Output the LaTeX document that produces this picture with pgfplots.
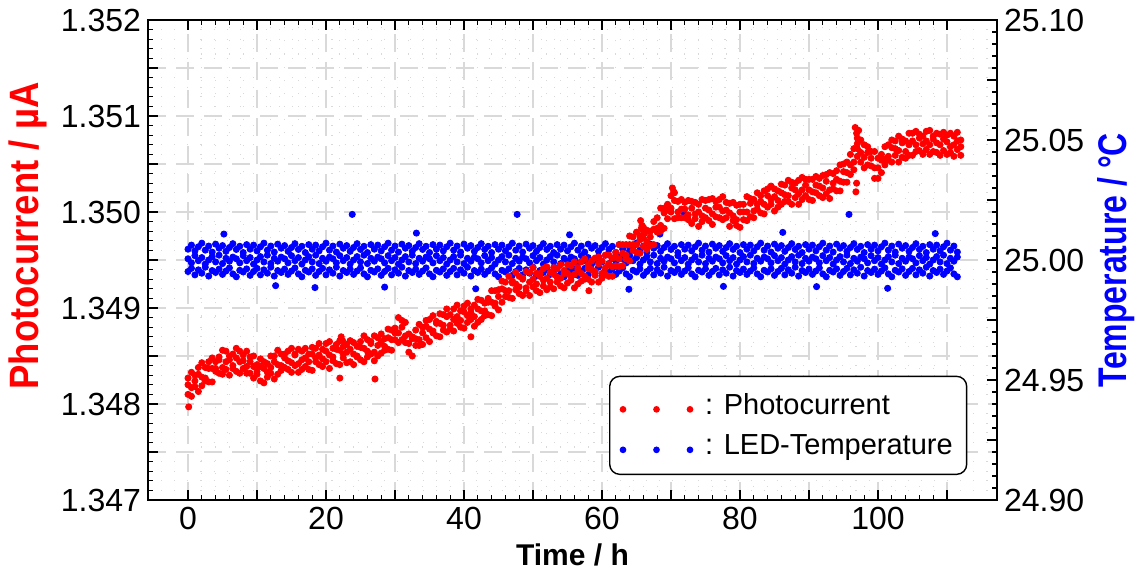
\documentclass[border=0pt]{standalone}
\usepackage{fontspec}
\setmainfont{Liberation Sans}
\usepackage{graphicx}
\usepackage{pgfplots}
\pgfplotsset{compat=1.18}
\usepackage{pgfplotstable}

\pgfplotstableread{
h a b c
0 1.34827 1.34820 1.34810
0.5 1.34833 1.34817 1.34808
1 1.34830 1.34824 1.34818
1.5 1.34838 1.34831 1.34813
2 1.34843 1.34828 1.34819
2.5 1.34838 1.34827 1.34824
3 1.34844 1.34837 1.34823
3.5 1.34848 1.34837 1.34823
4 1.34844 1.34837 1.34834
4.5 1.34849 1.34846 1.34832
5 1.34856 1.34838 1.34831
5.5 1.34855 1.34844 1.34836
6 1.34850 1.34846 1.34830
6.5 1.34852 1.34840 1.34837
7 1.34858 1.34848 1.34834
7.5 1.34855 1.34844 1.34832
8 1.34851 1.34845 1.34837
8.5 1.34855 1.34839 1.34832
9 1.34849 1.34844 1.34832
9.5 1.34850 1.34839 1.34827
10 1.34841 1.34834 1.34831
10.5 1.34847 1.34839 1.34824
11 1.34844 1.34837 1.34822
11.5 1.34842 1.34833 1.34828
12 1.34850 1.34838 1.34832
12.5 1.34850 1.34844 1.34826
13 1.34856 1.34841 1.34831
13.5 1.34852 1.34840 1.34835
14 1.34852 1.34848 1.34838
14.5 1.34855 1.34845 1.34836
15 1.34858 1.34843 1.34833
15.5 1.34852 1.34851 1.34840
16 1.34857 1.34842 1.34833
16.5 1.34855 1.34846 1.34836
17 1.34858 1.34848 1.34839
17.5 1.34852 1.34844 1.34836
18 1.34859 1.34852 1.34835
18.5 1.34858 1.34848 1.34844
19 1.34863 1.34851 1.34841
19.5 1.34857 1.34847 1.34839
20 1.34863 1.34855 1.34844
20.5 1.34865 1.34851 1.34837
21 1.34858 1.34849 1.34845
21.5 1.34862 1.34857 1.34842
22 1.34866 1.34856 1.34841
22.5 1.34860 1.34852 1.34848
23 1.34862 1.34854 1.34843
23.5 1.34866 1.34857 1.34844
24 1.34864 1.34852 1.34841
24.5 1.34860 1.34850 1.34849
25 1.34865 1.34859 1.34846
25.5 1.34871 1.34858 1.34844
26 1.34867 1.34855 1.34849
26.5 1.34865 1.34863 1.34852
27 1.34871 1.34854 1.34845
27.5 1.34869 1.34861 1.34850
28 1.34873 1.34864 1.34853
28.5 1.34868 1.34860 1.34856
29 1.34878 1.34869 1.34857
29.5 1.34877 1.34867 1.34856
30 1.34879 1.34874 1.34867
30.5 1.34890 1.34874 1.34864
31 1.34887 1.34880 1.34867
31.5 1.34885 1.34871 1.34864
32 1.34873 1.34863 1.34854
32.5 1.34870 1.34868 1.34850
33 1.34877 1.34868 1.34861
33.5 1.34883 1.34867 1.34861
34 1.34880 1.34874 1.34862
34.5 1.34887 1.34881 1.34869
35 1.34888 1.34878 1.34865
35.5 1.34892 1.34876 1.34874
36 1.34886 1.34884 1.34871
36.5 1.34894 1.34884 1.34870
37 1.34893 1.34882 1.34877
37.5 1.34899 1.34891 1.34875
38 1.34893 1.34882 1.34878
38.5 1.34899 1.34888 1.34876
39 1.34903 1.34891 1.34884
39.5 1.34897 1.34887 1.34880
40 1.34902 1.34896 1.34879
40.5 1.34905 1.34892 1.34885
41 1.34899 1.34895 1.34888
41.5 1.34903 1.34891 1.34881
42 1.34909 1.34899 1.34885
42.5 1.34908 1.34897 1.34888
43 1.34905 1.34897 1.34892
43.5 1.34910 1.34906 1.34893
44 1.34918 1.34906 1.34892
44.5 1.34918 1.34905 1.34902
45 1.34919 1.34912 1.34898
45.5 1.34928 1.34920 1.34906
46 1.34927 1.34918 1.34912
46.5 1.34933 1.34918 1.34911
47 1.34928 1.34926 1.34910
47.5 1.34937 1.34925 1.34919
48 1.34933 1.34922 1.34915
48.5 1.34931 1.34930 1.34913
49 1.34938 1.34921 1.34918
49.5 1.34937 1.34927 1.34913
50 1.34942 1.34930 1.34922
50.5 1.34936 1.34925 1.34918
51 1.34936 1.34933 1.34916
51.5 1.34941 1.34929 1.34923
52 1.34943 1.34931 1.34919
52.5 1.34937 1.34927 1.34922
53 1.34942 1.34935 1.34920
53.5 1.34941 1.34932 1.34927
54 1.34945 1.34931 1.34923
54.5 1.34939 1.34936 1.34921
55 1.34945 1.34936 1.34926
55.5 1.34944 1.34932 1.34929
56 1.34948 1.34935 1.34921
56.5 1.34942 1.34940 1.34925
57 1.34948 1.34936 1.34928
57.5 1.34951 1.34933 1.34930
58 1.34945 1.34941 1.34930
58.5 1.34949 1.34940 1.34927
59 1.34952 1.34938 1.34934
59.5 1.34953 1.34946 1.34927
60 1.34949 1.34936 1.34931
60.5 1.34955 1.34942 1.34935
61 1.34955 1.34946 1.34933
61.5 1.34952 1.34943 1.34933
62 1.34958 1.34953 1.34944
62.5 1.34966 1.34951 1.34943
63 1.34966 1.34957 1.34944
63.5 1.34966 1.34955 1.34951
64 1.34975 1.34966 1.34949
64.5 1.34974 1.34966 1.34960
65 1.34979 1.34966 1.34958
65.5 1.34975 1.34971 1.34957
66 1.34984 1.34973 1.34964
66.5 1.34981 1.34969 1.34961
67 1.34980 1.34974 1.34965
67.5 1.34990 1.34982 1.34966
68 1.34994 1.34983 1.34979
68.5 1.35004 1.34986 1.34980
69 1.35004 1.34999 1.34983
69.5 1.35008 1.35002 1.34993
70 1.35017 1.35004 1.35000
70.5 1.35020 1.35012 1.34993
71 1.35011 1.35000 1.34994
71.5 1.35013 1.35003 1.34994
72 1.35010 1.35003 1.34994
72.5 1.35012 1.34997 1.34992
73 1.35011 1.35004 1.34988
73.5 1.35010 1.34998 1.34993
74 1.35008 1.35000 1.34985
74.5 1.35013 1.34996 1.34990
75 1.35012 1.35004 1.34994
75.5 1.35013 1.35002 1.34991
76 1.35014 1.34998 1.34987
76.5 1.35011 1.35005 1.34995
77 1.35013 1.35005 1.34994
77.5 1.35016 1.35001 1.34992
78 1.35010 1.35002 1.34994
78.5 1.35009 1.34999 1.34985
79 1.35010 1.34996 1.34991
79.5 1.35007 1.34992 1.34986
80 1.35008 1.35000 1.34984
80.5 1.35008 1.35000 1.34992
81 1.35016 1.35000 1.34991
81.5 1.35014 1.35009 1.34995
82 1.35013 1.35001 1.34994
82.5 1.35020 1.35008 1.35003
83 1.35017 1.35011 1.34999
83.5 1.35022 1.35008 1.34998
84 1.35024 1.35017 1.35005
84.5 1.35027 1.35013 1.35008
85 1.35024 1.35016 1.35001
85.5 1.35022 1.35012 1.35005
86 1.35029 1.35020 1.35008
86.5 1.35028 1.35018 1.35011
87 1.35033 1.35017 1.35011
87.5 1.35031 1.35025 1.35008
88 1.35030 1.35023 1.35015
88.5 1.35033 1.35019 1.35008
89 1.35036 1.35023 1.35013
89.5 1.35034 1.35028 1.35017
90 1.35034 1.35023 1.35013
90.5 1.35034 1.35021 1.35012
91 1.35037 1.35028 1.35020
91.5 1.35035 1.35027 1.35017
92 1.35038 1.35025 1.35015
92.5 1.35039 1.35032 1.35019
93 1.35041 1.35023 1.35014
93.5 1.35040 1.35030 1.35024
94 1.35043 1.35034 1.35022
94.5 1.35049 1.35032 1.35022
95 1.35050 1.35042 1.35031
95.5 1.35052 1.35041 1.35031
96 1.35060 1.35049 1.35039
96.5 1.35066 1.35052 1.35044
97 1.35071 1.35066 1.35058
97.5 1.35075 1.35062 1.35052
98 1.35070 1.35057 1.35046
98.5 1.35068 1.35062 1.35049
99 1.35063 1.35056 1.35048
99.5 1.35063 1.35046 1.35035
100 1.35056 1.35046 1.35035
100.5 1.35060 1.35054 1.35041
101 1.35068 1.35055 1.35049
101.5 1.35070 1.35058 1.35054
102 1.35075 1.35067 1.35052
102.5 1.35074 1.35066 1.35059
103 1.35079 1.35064 1.35052
103.5 1.35076 1.35072 1.35057
104 1.35074 1.35063 1.35056
104.5 1.35082 1.35070 1.35059
105 1.35082 1.35074 1.35059
105.5 1.35084 1.35070 1.35063
106 1.35081 1.35077 1.35064
106.5 1.35079 1.35071 1.35060
107 1.35084 1.35074 1.35065
107.5 1.35085 1.35070 1.35060
108 1.35079 1.35076 1.35063
108.5 1.35082 1.35072 1.35062
109 1.35081 1.35070 1.35059
109.5 1.35083 1.35076 1.35064
110 1.35080 1.35073 1.35060
110.5 1.35082 1.35068 1.35062
111 1.35079 1.35070 1.35058
111.5 1.35083 1.35074 1.35065
112 1.35075 1.35068 1.35059
}\redtab

\pgfplotstableread{
h y
0.1 1.34797
22.0 1.34827
22.2 1.34870
22.4 1.34866
27.1 1.34826
41.0 1.34870
58.1 1.34918
65.6 1.34991
65.7 1.34983
65.8 1.34986
66.0 1.34980
66.2 1.34978
70.2 1.35025
70.4 1.35021
96.7 1.35088
96.8 1.35021
96.9 1.35082
96.9 1.35030
97.0 1.35077
97.2 1.35085
}\redout

\pgfplotstableread{
h a b c
0 25.0045 25.0005 24.9952
0.5 25.0062 24.9988 24.9965
1 25.0038 25.0018 24.9938
1.5 25.0055 24.9997 24.9959
2 25.0070 25.0010 24.9945
2.5 25.0041 24.9983 24.9970
3 25.0058 25.0000 24.9933
3.5 25.0033 25.0014 24.9956
4 25.0066 24.9992 24.9948
4.5 25.0049 25.0020 24.9962
5 25.0060 24.9985 24.9940
5.5 25.0036 25.0007 24.9954
6 25.0052 24.9995 24.9967
6.5 25.0068 25.0012 24.9942
7 25.0044 25.0005 24.9930
7.5 25.0057 24.9988 24.9957
8 25.0031 25.0018 24.9950
8.5 25.0064 24.9997 24.9963
9 25.0045 25.0010 24.9936
9.5 25.0062 24.9983 24.9952
10 25.0038 25.0000 24.9965
10.5 25.0055 25.0014 24.9938
11 25.0070 24.9992 24.9959
11.5 25.0041 25.0020 24.9945
12 25.0058 24.9985 24.9970
12.5 25.0033 25.0007 24.9933
13 25.0066 24.9995 24.9956
13.5 25.0049 25.0012 24.9948
14 25.0060 25.0005 24.9962
14.5 25.0036 24.9988 24.9940
15 25.0052 25.0018 24.9954
15.5 25.0068 24.9997 24.9967
16 25.0044 25.0010 24.9942
16.5 25.0057 24.9983 24.9930
17 25.0031 25.0000 24.9957
17.5 25.0064 25.0014 24.9950
18 25.0045 24.9992 24.9963
18.5 25.0062 25.0020 24.9936
19 25.0038 24.9985 24.9952
19.5 25.0055 25.0007 24.9965
20 25.0070 24.9995 24.9938
20.5 25.0041 25.0012 24.9959
21 25.0058 25.0005 24.9945
21.5 25.0033 24.9988 24.9970
22 25.0066 25.0018 24.9933
22.5 25.0049 24.9997 24.9956
23 25.0060 25.0010 24.9948
23.5 25.0036 24.9983 24.9962
24 25.0052 25.0000 24.9940
24.5 25.0068 25.0014 24.9954
25 25.0044 24.9992 24.9967
25.5 25.0057 25.0020 24.9942
26 25.0031 24.9985 24.9930
26.5 25.0064 25.0007 24.9957
27 25.0045 24.9995 24.9950
27.5 25.0062 25.0012 24.9963
28 25.0038 25.0005 24.9936
28.5 25.0055 24.9988 24.9952
29 25.0070 25.0018 24.9965
29.5 25.0041 24.9997 24.9938
30 25.0058 25.0010 24.9959
30.5 25.0033 24.9983 24.9945
31 25.0066 25.0000 24.9970
31.5 25.0049 25.0014 24.9933
32 25.0060 24.9992 24.9956
32.5 25.0036 25.0020 24.9948
33 25.0052 24.9985 24.9962
33.5 25.0068 25.0007 24.9940
34 25.0044 24.9995 24.9954
34.5 25.0057 25.0012 24.9967
35 25.0031 25.0005 24.9942
35.5 25.0064 24.9988 24.9930
36 25.0045 25.0018 24.9957
36.5 25.0062 24.9997 24.9950
37 25.0038 25.0010 24.9963
37.5 25.0055 24.9983 24.9936
38 25.0070 25.0000 24.9952
38.5 25.0041 25.0014 24.9965
39 25.0058 24.9992 24.9938
39.5 25.0033 25.0020 24.9959
40 25.0066 24.9985 24.9945
40.5 25.0049 25.0007 24.9970
41 25.0060 24.9995 24.9933
41.5 25.0036 25.0012 24.9956
42 25.0052 25.0005 24.9948
42.5 25.0068 24.9988 24.9962
43 25.0044 25.0018 24.9940
43.5 25.0057 24.9997 24.9954
44 25.0031 25.0010 24.9967
44.5 25.0064 24.9983 24.9942
45 25.0045 25.0000 24.9930
45.5 25.0062 25.0014 24.9957
46 25.0038 24.9992 24.9950
46.5 25.0055 25.0020 24.9963
47 25.0070 24.9985 24.9936
47.5 25.0041 25.0007 24.9952
48 25.0058 24.9995 24.9965
48.5 25.0033 25.0012 24.9938
49 25.0066 25.0005 24.9959
49.5 25.0049 24.9988 24.9945
50 25.0060 25.0018 24.9970
50.5 25.0036 24.9997 24.9933
51 25.0052 25.0010 24.9956
51.5 25.0068 24.9983 24.9948
52 25.0044 25.0000 24.9962
52.5 25.0057 25.0014 24.9940
53 25.0031 24.9992 24.9954
53.5 25.0064 25.0020 24.9967
54 25.0045 24.9985 24.9942
54.5 25.0062 25.0007 24.9930
55 25.0038 24.9995 24.9957
55.5 25.0055 25.0012 24.9950
56 25.0070 25.0005 24.9963
56.5 25.0041 24.9988 24.9936
57 25.0058 25.0018 24.9952
57.5 25.0033 24.9997 24.9965
58 25.0066 25.0010 24.9938
58.5 25.0049 24.9983 24.9959
59 25.0060 25.0000 24.9945
59.5 25.0036 25.0014 24.9970
60 25.0052 24.9992 24.9933
60.5 25.0068 25.0020 24.9956
61 25.0044 24.9985 24.9948
61.5 25.0057 25.0007 24.9962
62 25.0031 24.9995 24.9940
62.5 25.0064 25.0012 24.9954
63 25.0045 25.0005 24.9967
63.5 25.0062 24.9988 24.9942
64 25.0038 25.0018 24.9930
64.5 25.0055 24.9997 24.9957
65 25.0070 25.0010 24.9950
65.5 25.0041 24.9983 24.9963
66 25.0058 25.0000 24.9936
66.5 25.0033 25.0014 24.9952
67 25.0066 24.9992 24.9965
67.5 25.0049 25.0020 24.9938
68 25.0060 24.9985 24.9959
68.5 25.0036 25.0007 24.9945
69 25.0052 24.9995 24.9970
69.5 25.0068 25.0012 24.9933
70 25.0044 25.0005 24.9956
70.5 25.0057 24.9988 24.9948
71 25.0031 25.0018 24.9962
71.5 25.0064 24.9997 24.9940
72 25.0045 25.0010 24.9954
72.5 25.0062 24.9983 24.9967
73 25.0038 25.0000 24.9942
73.5 25.0055 25.0014 24.9930
74 25.0070 24.9992 24.9957
74.5 25.0041 25.0020 24.9950
75 25.0058 24.9985 24.9963
75.5 25.0033 25.0007 24.9936
76 25.0066 24.9995 24.9952
76.5 25.0049 25.0012 24.9965
77 25.0060 25.0005 24.9938
77.5 25.0036 24.9988 24.9959
78 25.0052 25.0018 24.9945
78.5 25.0068 24.9997 24.9970
79 25.0044 25.0010 24.9933
79.5 25.0057 24.9983 24.9956
80 25.0031 25.0000 24.9948
80.5 25.0064 25.0014 24.9962
81 25.0045 24.9992 24.9940
81.5 25.0062 25.0020 24.9954
82 25.0038 24.9985 24.9967
82.5 25.0055 25.0007 24.9942
83 25.0070 24.9995 24.9930
83.5 25.0041 25.0012 24.9957
84 25.0058 25.0005 24.9950
84.5 25.0033 24.9988 24.9963
85 25.0066 25.0018 24.9936
85.5 25.0049 24.9997 24.9952
86 25.0060 25.0010 24.9965
86.5 25.0036 24.9983 24.9938
87 25.0052 25.0000 24.9959
87.5 25.0068 25.0014 24.9945
88 25.0044 24.9992 24.9970
88.5 25.0057 25.0020 24.9933
89 25.0031 24.9985 24.9956
89.5 25.0064 25.0007 24.9948
90 25.0045 24.9995 24.9962
90.5 25.0062 25.0012 24.9940
91 25.0038 25.0005 24.9954
91.5 25.0055 24.9988 24.9967
92 25.0070 25.0018 24.9942
92.5 25.0041 24.9997 24.9930
93 25.0058 25.0010 24.9957
93.5 25.0033 24.9983 24.9950
94 25.0066 25.0000 24.9963
94.5 25.0049 25.0014 24.9936
95 25.0060 24.9992 24.9952
95.5 25.0036 25.0020 24.9965
96 25.0052 24.9985 24.9938
96.5 25.0068 25.0007 24.9959
97 25.0044 24.9995 24.9945
97.5 25.0057 25.0012 24.9970
98 25.0031 25.0005 24.9933
98.5 25.0064 24.9988 24.9956
99 25.0045 25.0018 24.9948
99.5 25.0062 24.9997 24.9962
100 25.0038 25.0010 24.9940
100.5 25.0055 24.9983 24.9954
101 25.0070 25.0000 24.9967
101.5 25.0041 25.0014 24.9942
102 25.0058 24.9992 24.9930
102.5 25.0033 25.0020 24.9957
103 25.0066 24.9985 24.9950
103.5 25.0049 25.0007 24.9963
104 25.0060 24.9995 24.9936
104.5 25.0036 25.0012 24.9952
105 25.0052 25.0005 24.9965
105.5 25.0068 24.9988 24.9938
106 25.0044 25.0018 24.9959
106.5 25.0057 24.9997 24.9945
107 25.0031 25.0010 24.9970
107.5 25.0064 24.9983 24.9933
108 25.0045 25.0000 24.9956
108.5 25.0062 25.0014 24.9948
109 25.0038 24.9992 24.9962
109.5 25.0055 25.0020 24.9940
110 25.0070 24.9985 24.9954
110.5 25.0041 25.0007 24.9967
111 25.0058 24.9995 24.9942
111.5 25.0033 25.0012 24.9930
}\bluetab

\pgfplotstableread{
h y
5.2 25.0108
12.7 24.9893
18.4 24.9885
23.8 25.0190
28.5 24.9887
33.1 25.0112
41.7 24.9880
47.7 25.0190
55.3 25.0105
63.9 24.9878
68.4 25.0108
71.9 25.0190
77.6 24.9890
86.2 25.0115
91.1 24.9889
95.8 25.0190
101.4 24.9882
108.3 25.0110
}\blueout

\pgfplotsset{
  common/.style={
    set layers,
    scale only axis, width=424.5pt, height=240pt,
    xmin=-5.8, xmax=117.25,
    tick align=inside,
    major tick length=5pt, minor tick length=2.5pt,
    axis line style={line width=1.1pt},
    every tick/.append style={black, line width=0.8pt},
    every minor tick/.append style={black, line width=0.6pt},
    /pgf/number format/assume math mode=true,
    ticklabel style={font=\fontsize{16}{19}\selectfont},
  },
  reddot/.style={red, only marks, mark=*, mark size=1.55pt, forget plot},
  bluedot/.style={blue, only marks, mark=*, mark size=1.55pt, forget plot},
}

\begin{document}
\begin{tikzpicture}
\begin{axis}[common, name=tax,
  axis x line=none, axis y line*=right,
  ymin=24.9, ymax=25.1,
  ytick={24.9,24.925,24.95,24.975,25,25.025,25.05,25.075,25.1},
  yticklabels={24.90,,24.95,,25.00,,25.05,,25.10},
  minor y tick num=4,
  ylabel={\scalebox{0.8}[1]{\fontsize{20}{24}\selectfont\bfseries Temperature / °C}},
  ylabel style={text=blue},
]
\addplot[bluedot] table[x=h, y=a] {\bluetab};
\addplot[bluedot] table[x=h, y=b] {\bluetab};
\addplot[bluedot] table[x=h, y=c] {\bluetab};
\addplot[bluedot] table[x=h, y=y] {\blueout};
\end{axis}

\begin{axis}[common, name=ax,
  ymin=1.347, ymax=1.352,
  xtick={0,10,20,30,40,50,60,70,80,90,100,110},
  xticklabels={0,,20,,40,,60,,80,,100,},
  minor x tick num=4,
  ytick={1.347,1.3475,1.348,1.3485,1.349,1.3495,1.35,1.3505,1.351,1.3515,1.352},
  yticklabels={1.347,,1.348,,1.349,,1.350,,1.351,,1.352},
  minor y tick num=4,
  ytick pos=left,
  grid=both,
  major grid style={gray!30, line width=0.6pt, dash pattern=on 9pt off 5pt},
  minor grid style={gray!30, line width=0.55pt, dash pattern=on 0.55pt off 6pt},
  xlabel={\fontsize{15}{18}\selectfont\bfseries Time / h},
  ylabel={\scalebox{0.89}[1]{\fontsize{20.5}{24}\selectfont\bfseries Photocurrent / µA}},
  ylabel style={text=red, at={(ticklabel cs:0.55)}},
  legend style={at={(0.543,0.052)}, anchor=south west, draw=black, line width=0.7pt,
    rounded corners=5pt, font=\fontsize{14.5}{17}\selectfont,
    inner xsep=5pt, inner ysep=6.5pt, row sep=4.5pt},
  legend cell align=left,
]
\addplot[reddot] table[x=h, y=a] {\redtab};
\addplot[reddot] table[x=h, y=b] {\redtab};
\addplot[reddot] table[x=h, y=c] {\redtab};
\addplot[reddot] table[x=h, y=y] {\redout};
\addlegendimage{legend image code/.code={\fill[red] (0pt,-2pt) circle (1.3pt) (16.75pt,-2pt) circle (1.3pt) (33.5pt,-2pt) circle (1.3pt); \path[draw=none, fill=none] (0pt,-2pt) rectangle (39pt,-1.9pt);}}
\addlegendentry{: Photocurrent}
\addlegendimage{legend image code/.code={\fill[blue] (0pt,-2pt) circle (1.3pt) (16.75pt,-2pt) circle (1.3pt) (33.5pt,-2pt) circle (1.3pt); \path[draw=none, fill=none] (0pt,-2pt) rectangle (39pt,-1.9pt);}}
\addlegendentry{: LED-Temperature}
\end{axis}
\pgfresetboundingbox
\path ([shift={(-74pt,-35.5pt)}]ax.south west) rectangle ([shift={(72pt,10pt)}]ax.north east);
\end{tikzpicture}
\end{document}
